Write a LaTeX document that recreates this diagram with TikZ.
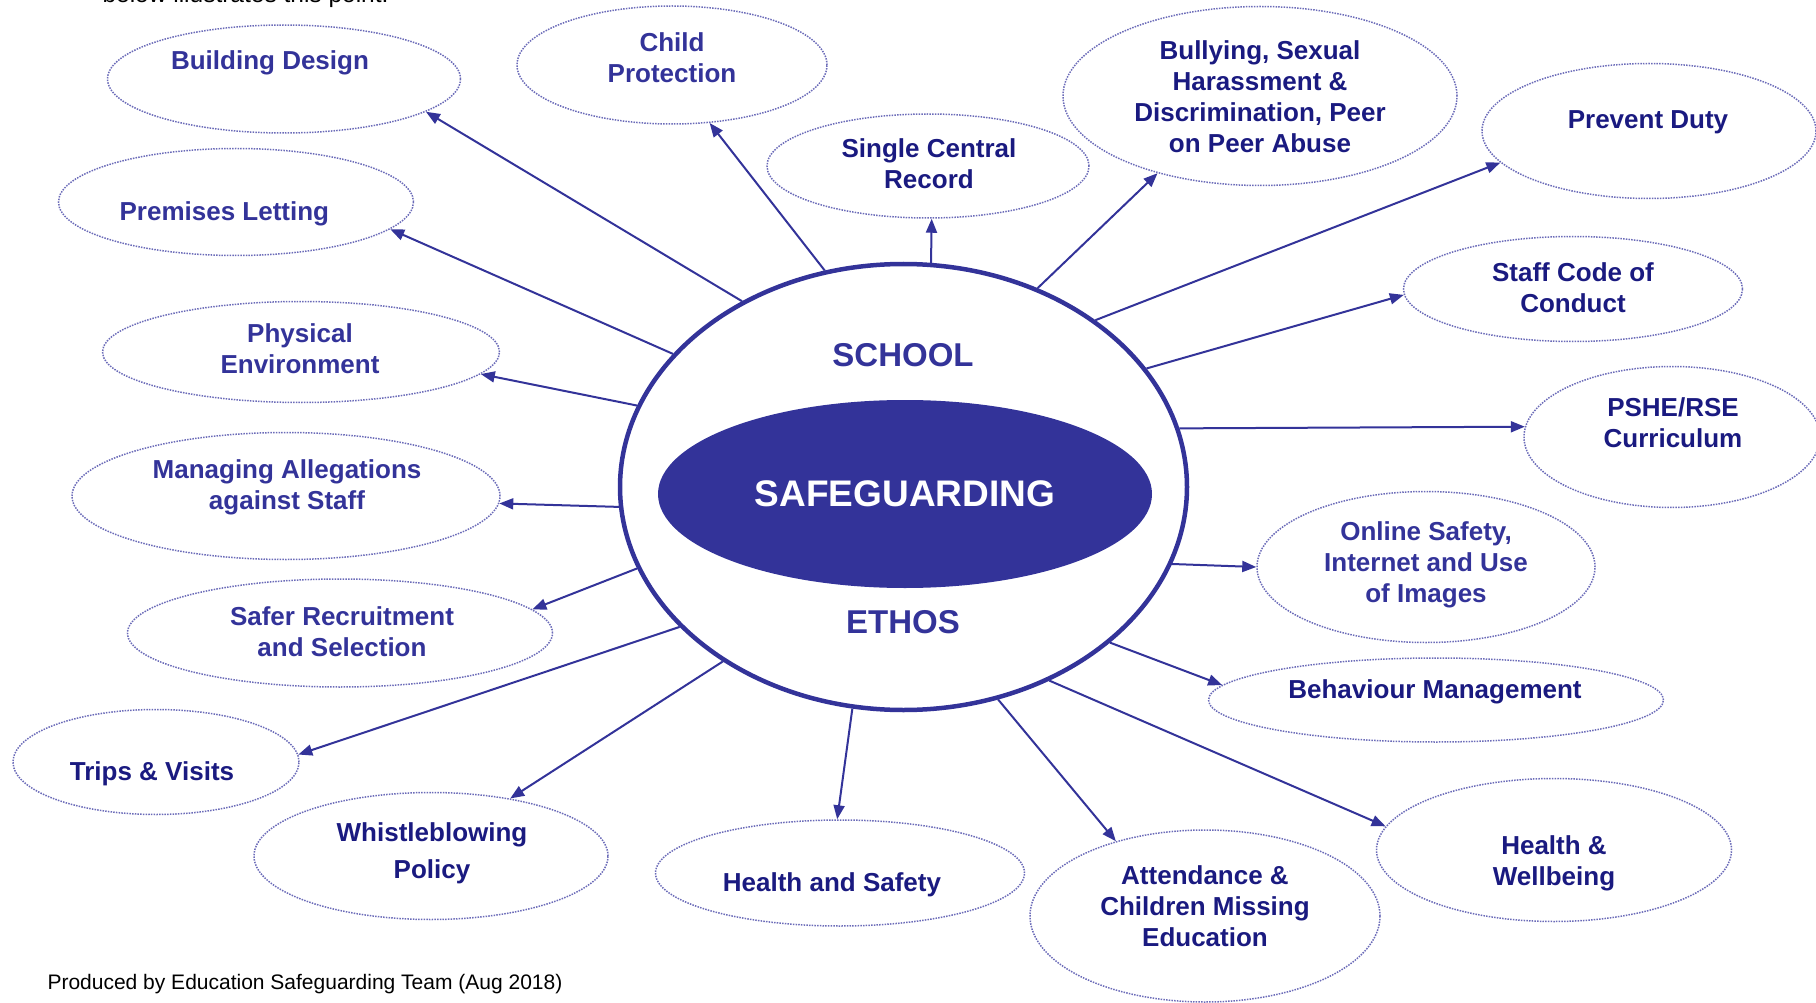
\documentclass[tikz,border=0pt]{standalone}
\usepackage{fontspec}
\setmainfont{Liberation Sans}
\usetikzlibrary{arrows.meta, shapes.geometric}

\definecolor{ringBlue}{HTML}{333399}
\definecolor{deepNavy}{HTML}{1A1A80}
\definecolor{dotLilac}{HTML}{6B6BB8}

\tikzset{
    % Hub
    hubRing/.style={ellipse, draw=ringBlue, line width=4.5pt, inner sep=0pt},
    coreBlob/.style={ellipse, fill=ringBlue, inner sep=0pt, text=white, font=\bfseries\fontsize{37}{44}\selectfont},
    hubWord/.style={text=ringBlue, font=\bfseries\fontsize{33}{40}\selectfont},
    % Topics
    topicBubble/.style={ellipse, draw=dotLilac, line width=1.5pt, dash pattern=on 1.5pt off 1.2pt, inner sep=0pt},
    topicText/.style={align=center, font=\bfseries\fontsize{26}{31}\selectfont},
    spokeArrow/.style={-{Triangle[length=14pt,width=11pt]}, draw=ringBlue, line width=2pt},
    % Notes
    footNote/.style={anchor=base west, font=\fontsize{21}{25}\selectfont}
}

\begin{document}
\begin{tikzpicture}[x=1pt, y=-1pt]
    \useasboundingbox (0,0) rectangle (1816,1003);
    \clip (0,0) rectangle (1816,1003);

    % Intro line (cut off at the top)
    \node[footNote, font=\fontsize{24.5}{29}\selectfont] (intro) at (99,3) {below illustrates this point.};

    % Topic bubbles
    \foreach \nm/\cx/\cy/\w/\h/\tx/\ty/\col/\txt in {
        bd/284/79/353/108/270/63/ringBlue/{Building Design},
        cp/672/65/310/118/672/58/ringBlue/{Child\\Protection},
        scr/928/166/322/104/929/164/deepNavy/{Single Central\\Record},
        bul/1260/96/394/179/1260/97/deepNavy/{Bullying, Sexual\\Harassment \&\\Discrimination, Peer\\on Peer Abuse},
        pd/1649/131/334/135/1648/122/deepNavy/{Prevent Duty},
        scc/1573/289/339/105/1573/288/deepNavy/{Staff Code of\\Conduct},
        pshe/1672/437/296/141/1673/423/deepNavy/{PSHE/RSE\\Curriculum},
        os/1426/567/338/151/1426/565/ringBlue/{Online Safety,\\Internet and Use\\of Images},
        bm/1436/700/455/84/1435/692/deepNavy/{Behaviour Management},
        hw/1554/850/355/143/1554/863/deepNavy/{Health \&\\Wellbeing},
        att/1205/916/350/172/1205/906/deepNavy/{Attendance \&\\Children Missing\\Education},
        hs/840/873/369/106/832/885/deepNavy/{Health and Safety},
        wb/431/856/354/127/432/853/deepNavy/{Whistleblowing\\[6pt]Policy},
        tv/156/762/286/105/152/774/deepNavy/{Trips \& Visits},
        sr/340/633/425/108/342/632/ringBlue/{Safer Recruitment\\and Selection},
        ma/286/496/428/127/287/487/ringBlue/{Managing Allegations\\against Staff},
        pe/301/352/397/101/300/349/ringBlue/{Physical\\Environment},
        pl/236/202/355/107/228/214/ringBlue/{Premises Letting}
    }{
        \node[topicBubble, minimum width=\w, minimum height=\h] (\nm) at (\cx,\cy) {};
        \node[topicText, text=\col] (\nm-txt) at (\tx,\ty) {\txt};
    }

    % School ethos hub
    \node[hubRing, minimum width=567, minimum height=446] (hub) at (903.5,487) {};
    \node[coreBlob, minimum width=494, minimum height=188] (core) at (905,494) {SAFEGUARDING};
    \node[hubWord] (school) at (903,355) {SCHOOL};
    \node[hubWord] (ethos) at (903,622) {ETHOS};

    % Spokes
    \foreach \nm/\from/\to in {
        bd/131.5/-13.6, cp/110.4/-57.2, scr/83/-86, bul/56.1/-143.2,
        pd/41.9/-168.5, scc/26.7/-178, pshe/12.2/176.9, os/-16.5/180,
        bm/-37.7/176.6, hw/-53.4/172.8, att/-66.1/140, hs/-103.3/93.4,
        wb/-136.7/36.3, tv/-148.5/3.6, sr/-163.7/7.3, ma/-176.8/-2.2,
        pe/163.8/-7.8, pl/150.6/-10.2
    }
        \draw[spokeArrow] (hub.\from) -- (\nm.\to);

    % Credit
    \node[footNote] (credit) at (44,989) {Produced by Education Safeguarding Team (Aug 2018)};
\end{tikzpicture}
\end{document}
